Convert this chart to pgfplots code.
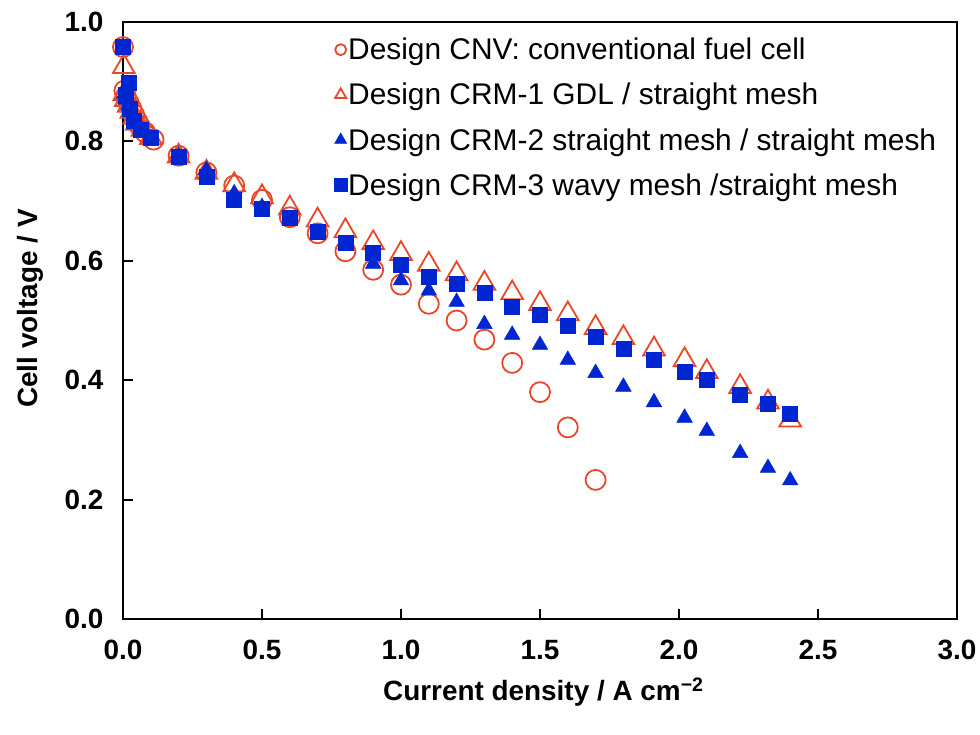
\documentclass[border=0pt]{standalone}
\usepackage{fontspec}
\setmainfont{Liberation Sans}
\usepackage{pgfplots}
\pgfplotsset{compat=1.18}
\definecolor{cred}{RGB}{232,72,40}
\definecolor{cblue}{RGB}{0,38,210}
\pgfplotsset{
  smallmark/.style={legend image code/.code={\draw[##1,mark size=#1] plot coordinates {(0bp,0bp)};}}
}
\begin{document}
\begin{tikzpicture}
\begin{axis}[
  at={(0,0)}, anchor=south west,
  scale only axis, width=834bp, height=597bp,
  xmin=0, xmax=3, ymin=0, ymax=1,
  clip=false,
  xtick={0,0.5,1,1.5,2,2.5,3},
  ytick={0,0.2,0.4,0.6,0.8,1.0},
  xtick pos=bottom, ytick pos=left,
  tick align=inside,
  major tick length=10bp,
  every tick/.style={black, line width=2bp},
  axis line style={line width=2.4bp},
  /pgf/number format/fixed,
  /pgf/number format/fixed zerofill,
  /pgf/number format/precision=1,
  /pgf/number format/assume math mode=true,
  tick label style={font=\fontsize{28}{30}\selectfont\bfseries},
  yticklabel style={xshift=-16bp},
  xticklabel style={yshift=-18bp},
  xlabel={Current density / A cm\textsuperscript{−2}},
  ylabel={Cell voltage / V},
  xlabel style={at={(rel axis cs:0.504,-0.123)}, anchor=center, font=\fontsize{28}{30}\selectfont\bfseries},
  ylabel style={at={(rel axis cs:-0.1115,0.52)}, anchor=center, font=\fontsize{28}{30}\selectfont\bfseries},
  legend style={at={(rel axis cs:0.253,0.975)}, anchor=north west, draw=none, fill=none,
    font=\fontsize{30}{32}\selectfont, row sep=20bp, inner sep=0pt,
    nodes={inner sep=1bp},
    /tikz/every even column/.append style={column sep=9bp}},
  legend cell align=left,
]
\addplot[only marks, mark=o, mark size=10bp, draw=cred, line width=1.8bp, smallmark=5.5bp] coordinates {
(0,0.958) (0.005,0.885) (0.01,0.875) (0.02,0.865) (0.03,0.855) (0.04,0.845) (0.05,0.835)
(0.06,0.826) (0.08,0.815) (0.11,0.803) (0.2,0.776) (0.3,0.748) (0.4,0.726) (0.5,0.702)
(0.6,0.673) (0.7,0.646) (0.8,0.616) (0.9,0.585) (1.0,0.560) (1.1,0.528) (1.2,0.500)
(1.3,0.468) (1.4,0.429) (1.5,0.380) (1.6,0.321) (1.7,0.233)
};
\addlegendentry{Design CNV: conventional fuel cell}
\addplot[only marks, mark=triangle, mark size=12.5bp, draw=cred, line width=1.8bp, smallmark=6.5bp] coordinates {
(0.003,0.925) (0.005,0.88) (0.01,0.87) (0.02,0.86) (0.03,0.85) (0.04,0.84) (0.05,0.83)
(0.07,0.82) (0.1,0.806) (0.2,0.775) (0.3,0.748) (0.4,0.727) (0.5,0.707) (0.6,0.688)
(0.7,0.668) (0.8,0.650) (0.9,0.630) (1.0,0.612) (1.1,0.594) (1.2,0.578) (1.3,0.562)
(1.4,0.546) (1.5,0.528) (1.6,0.511) (1.7,0.488) (1.8,0.471) (1.91,0.452) (2.02,0.434)
(2.1,0.414) (2.22,0.389) (2.32,0.363) (2.4,0.333)
};
\addlegendentry{Design CRM-1 GDL / straight mesh}
\addplot[only marks, mark=triangle*, mark size=9bp, draw=cblue, fill=cblue, line width=0.5bp, smallmark=7bp] coordinates {
(0,0.958) (0.005,0.88) (0.01,0.87) (0.02,0.86) (0.03,0.85) (0.04,0.84) (0.05,0.83)
(0.07,0.818) (0.1,0.805) (0.2,0.776) (0.3,0.752) (0.4,0.713) (0.5,0.690) (0.6,0.668)
(0.7,0.645) (0.8,0.627) (0.9,0.595) (1.0,0.567) (1.1,0.550) (1.2,0.531) (1.3,0.494)
(1.4,0.476) (1.5,0.459) (1.6,0.434) (1.7,0.412) (1.8,0.389) (1.91,0.363) (2.02,0.337)
(2.1,0.315) (2.22,0.278) (2.32,0.253) (2.4,0.232)
};
\addlegendentry{Design CRM-2 straight mesh / straight mesh}
\addplot[only marks, mark=square*, mark size=7.5bp, draw=cblue, fill=cblue, line width=0.5bp, smallmark=6.5bp] coordinates {
(0,0.958) (0.02,0.898) (0.01,0.878) (0.025,0.855) (0.04,0.835) (0.065,0.82) (0.1,0.806)
(0.2,0.774) (0.3,0.740) (0.4,0.702) (0.5,0.688) (0.6,0.672) (0.7,0.648) (0.8,0.630)
(0.9,0.613) (1.0,0.593) (1.1,0.573) (1.2,0.562) (1.3,0.546) (1.4,0.523) (1.5,0.509)
(1.6,0.491) (1.7,0.472) (1.8,0.452) (1.91,0.435) (2.02,0.414) (2.1,0.400) (2.22,0.375)
(2.32,0.360) (2.4,0.343)
};
\addlegendentry{Design CRM-3 wavy mesh /straight mesh}
\end{axis}
\pgfresetboundingbox
\useasboundingbox (-123bp,-116bp) rectangle (857bp,619bp);
\end{tikzpicture}
\end{document}
